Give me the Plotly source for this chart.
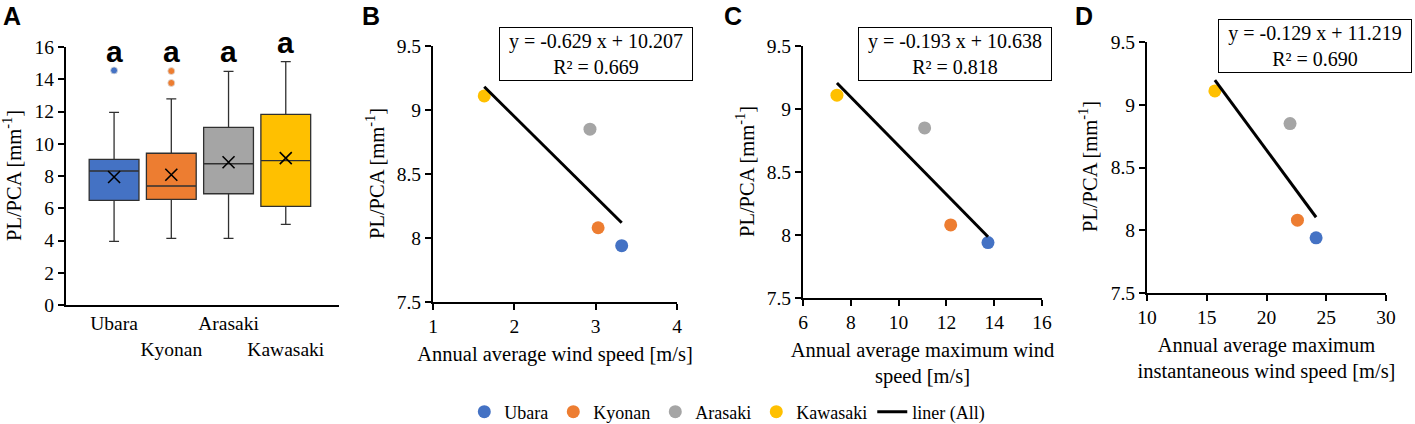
import plotly.graph_objects as go

W, H = 1415, 424

sites = ["Ubara", "Kyonan", "Arasaki", "Kawasaki"]
colors = ["#4472C4", "#ED7D31", "#A5A5A5", "#FFC000"]

# Panel A box statistics
q1 = [6.49, 6.55, 6.90, 6.12]
median = [8.31, 7.38, 8.76, 8.95]
q3 = [9.03, 9.41, 11.02, 11.82]
lower = [3.95, 4.13, 4.13, 5.00]
upper = [11.95, 12.78, 14.49, 15.09]
means = [7.94, 8.08, 8.85, 9.11]
outliers = [[14.55], [14.51, 13.77], [], []]
sig_letters = ["a", "a", "a", "a"]
sig_y = [15.1, 15.1, 15.05, 15.6]
tick_text_A = ["Ubara", "<br>Kyonan", "Arasaki", "<br>Kawasaki"]

# Panels B-D
wind_avg = [3.32, 3.03, 2.93, 1.63]
wind_max = [13.74, 12.18, 11.09, 7.42]
wind_inst = [24.15, 22.59, 21.97, 15.68]
pl_pca = [7.94, 8.08, 8.85, 9.11]
slopes = [-0.629, -0.193, -0.129]
intercepts = [10.207, 10.638, 11.219]
r2 = [0.669, 0.818, 0.690]

SERIF = "Liberation Serif, Times New Roman, serif"
SANS = "Liberation Sans, Arial, sans-serif"

fig = go.Figure()

# ---- Panel A ----
for i, s in enumerate(sites):
    fig.add_trace(go.Box(
        x=[s], q1=[q1[i]], median=[median[i]], q3=[q3[i]],
        lowerfence=[lower[i]], upperfence=[upper[i]],
        fillcolor=colors[i], line=dict(color="#303030", width=1.3),
        whiskerwidth=0.2, width=0.87, boxpoints=False,
        showlegend=False, xaxis="x", yaxis="y", hoverinfo="skip"))
    if outliers[i]:
        fig.add_trace(go.Scatter(
            x=[s] * len(outliers[i]), y=outliers[i], mode="markers",
            marker=dict(size=7, color=colors[i], line=dict(color="#dddddd", width=0.8)),
            showlegend=False, xaxis="x", yaxis="y"))
fig.add_trace(go.Scatter(
    x=sites, y=means, mode="markers",
    marker=dict(symbol="x-thin", size=12, line=dict(color="black", width=1.6)),
    showlegend=False, xaxis="x", yaxis="y"))

for i, s in enumerate(sites):
    fig.add_annotation(x=s, y=sig_y[i], xref="x", yref="y", text=f"<b>{sig_letters[i]}</b>",
                       showarrow=False, yanchor="bottom", yshift=-8,
                       font=dict(family=SANS, size=30, color="black"))

# ---- Panels B-D ----
xs_list = [wind_avg, wind_max, wind_inst]
axes = [("x2", "y2"), ("x3", "y3"), ("x4", "y4")]
for p in range(3):
    xa, ya = axes[p]
    xs = xs_list[p]
    for i, s in enumerate(sites):
        fig.add_trace(go.Scatter(
            x=[xs[i]], y=[pl_pca[i]], mode="markers", name=s,
            legendgroup=s, showlegend=(p == 0),
            marker=dict(size=13, color=colors[i]),
            xaxis=xa, yaxis=ya, cliponaxis=False))
for p in range(3):
    xa, ya = axes[p]
    xs = xs_list[p]
    x0, x1 = min(xs), max(xs)
    fig.add_trace(go.Scatter(
        x=[x0, x1], y=[slopes[p] * x0 + intercepts[p], slopes[p] * x1 + intercepts[p]],
        mode="lines", name="liner (All)", legendgroup="liner",
        showlegend=(p == 0), line=dict(color="black", width=3),
        xaxis=xa, yaxis=ya))

def px(x):
    return x / W

def py(y):
    return 1 - y / H

axis_common = dict(showline=True, linecolor="black", linewidth=2, ticks="outside",
                   ticklen=6, tickwidth=2, tickcolor="black", showgrid=False,
                   zeroline=False, tickfont=dict(family=SERIF, size=19.5, color="black"),
                   title_font=dict(family=SERIF, size=20.5, color="black"))

ytitle = "PL/PCA [mm<sup>-1</sup>]"

fig.update_layout(
    width=W, height=H, margin=dict(l=0, r=0, t=0, b=0, autoexpand=False),
    paper_bgcolor="white", plot_bgcolor="white",
    boxmode="overlay",
    font=dict(family=SERIF, size=18, color="black"),
    xaxis=dict(domain=[px(66), px(339)], type="category", range=[-0.84, 3.93],
               tickvals=sites, ticktext=tick_text_A, tickangle=0, anchor="y",
               **{**axis_common, "ticks": ""}),
    yaxis=dict(domain=[py(305), py(47)], range=[0, 16], dtick=2, anchor="x", **axis_common),
    xaxis2=dict(domain=[px(433), px(677)], range=[1, 4], dtick=1, anchor="y2",
                title=dict(text="Annual average wind speed [m/s]", standoff=10), **axis_common),
    yaxis2=dict(domain=[py(302), py(46)], range=[7.5, 9.5], dtick=0.5, anchor="x2", **axis_common),
    xaxis3=dict(domain=[px(803), px(1042)], range=[6, 16], dtick=2, anchor="y3",
                title=dict(text="Annual average maximum wind<br>speed [m/s]", standoff=10), **axis_common),
    yaxis3=dict(domain=[py(298), py(46)], range=[7.5, 9.5], dtick=0.5, anchor="x3", **axis_common),
    xaxis4=dict(domain=[px(1147), px(1386)], range=[10, 30], dtick=5, anchor="y4",
                title=dict(text="Annual average maximum<br>instantaneous wind speed [m/s]", standoff=10), **axis_common),
    yaxis4=dict(domain=[py(293), py(42)], range=[7.5, 9.5], dtick=0.5, anchor="x4", **axis_common),
    legend=dict(orientation="h", x=0.514, xanchor="center", y=py(412), yanchor="middle",
                font=dict(family=SERIF, size=18, color="black"), itemwidth=30,
                bgcolor="rgba(0,0,0,0)", tracegroupgap=0),
)

# Y-axis titles
for cx, cy in [(12, 176), (375, 174), (745, 172), (1088, 167)]:
    fig.add_annotation(x=px(cx), y=py(cy), xref="paper", yref="paper", text=ytitle,
                       textangle=-90, showarrow=False, xanchor="center", yanchor="middle",
                       font=dict(family=SERIF, size=20.5, color="black"))

# Panel letters
for letter, cx in zip(["A", "B", "C", "D"], [12, 371, 733, 1084]):
    fig.add_annotation(x=px(cx), y=py(16), xref="paper", yref="paper", text=f"<b>{letter}</b>",
                       showarrow=False, xanchor="center", yanchor="middle",
                       font=dict(family=SANS, size=25, color="black"))

# Equation boxes
box_centers = [(595.5, 54.5), (955, 54.5), (1315, 46.5)]
for p in range(3):
    cx, cy = box_centers[p]
    sign = "+" if intercepts[p] >= 0 else "-"
    txt = f"y = {slopes[p]:.3f} x {sign} {abs(intercepts[p]):.3f}<br>R² = {r2[p]:.3f}"
    fig.add_annotation(x=px(cx), y=py(cy), xref="paper", yref="paper", text=txt,
                       showarrow=False, xanchor="center", yanchor="middle",
                       bordercolor="black", borderwidth=1, borderpad=3, bgcolor="white",
                       width=186, height=46,
                       font=dict(family=SERIF, size=20, color="black"))

fig.write_html("out.html", config={"displayModeBar": False},
               post_script="document.body.style.margin='0';document.body.style.overflow='hidden';")
